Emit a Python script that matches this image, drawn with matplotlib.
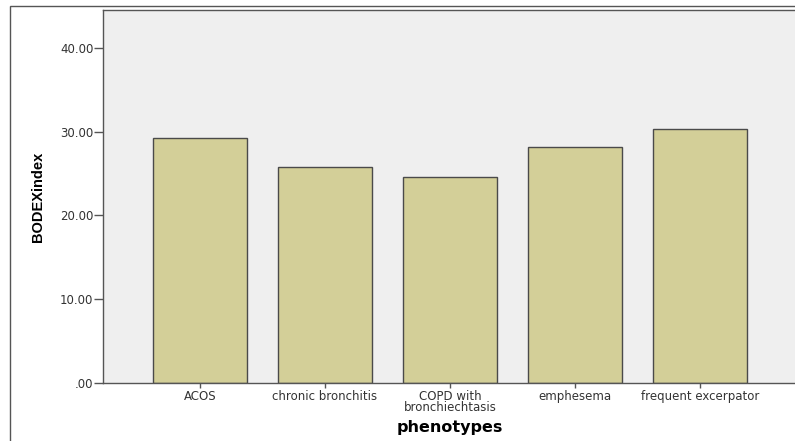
import matplotlib.pyplot as plt
from matplotlib.patches import Rectangle

# Data
categories = ["ACOS", "chronic bronchitis", "COPD with\nbronchiechtasis",
              "emphesema", "frequent excerpator"]
values = [29.2, 25.8, 24.6, 28.2, 30.3]
yticks = [0, 10, 20, 30, 40]
ytick_labels = [".00", "10.00", "20.00", "30.00", "40.00"]

plt.rcParams['font.family'] = ['DejaVu Sans']

W, H = 795, 441
fig = plt.figure(figsize=(W / 100, H / 100), dpi=100)
fig.patch.set_facecolor('white')

# outer frame of the SPSS chart
fig.patches.append(Rectangle((10 / W, -0.1), 1.1, 1 - 6 / H + 0.1,
                             transform=fig.transFigure, fill=False,
                             edgecolor='#555555', linewidth=1.0))

ax = fig.add_axes([103 / W, 1 - 383 / H, 694 / W, 373 / H])
ax.set_facecolor('#efefef')

x = range(len(categories))
ax.bar(x, values, width=0.75, color='#d3cf98', edgecolor='#4a4a4a', linewidth=1.0, zorder=2)

ax.set_xlim(-0.776, 4.776)
ax.set_ylim(0, 44.5)
ax.set_yticks(yticks)
ax.set_yticklabels(ytick_labels)
ax.set_xticks(list(x))
ax.set_xticklabels(categories, linespacing=0.8)

ax.tick_params(axis='y', direction='out', length=6.5, width=1, color='#555555',
               labelsize=8.5, labelcolor='#333333', pad=0.5)
ax.tick_params(axis='x', direction='out', length=3.6, width=1, color='#555555',
               labelsize=8.5, labelcolor='#333333', pad=1.5)

for s in ax.spines.values():
    s.set_color('#555555')
    s.set_linewidth(1.0)

ax.set_ylabel('BODEXindex', fontsize=10.5, fontweight='bold', labelpad=11,
              family=['Liberation Sans'])
ax.set_xlabel('phenotypes', fontsize=11.5, fontweight='bold', labelpad=4)

fig.savefig('out.png', dpi=100)
